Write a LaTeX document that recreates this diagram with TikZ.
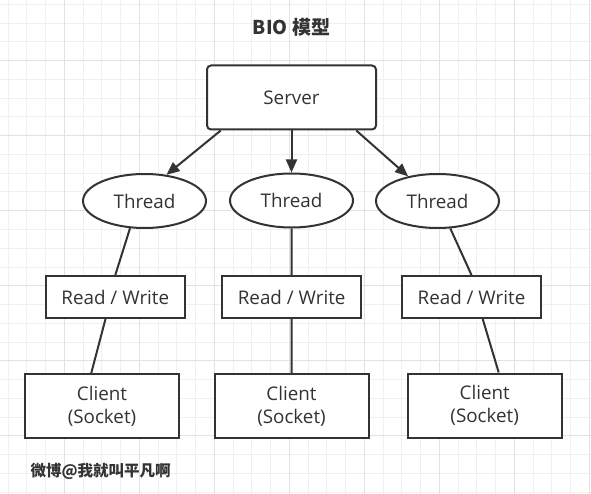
\documentclass[tikz,border=0pt]{standalone}
\usepackage{fontspec}
\setmainfont{Open Sans}
\newfontfamily\cjk{Noto Sans CJK SC}
\usetikzlibrary{shapes.geometric}
\usetikzlibrary{arrows.meta}
\definecolor{ink}{HTML}{333333}
\definecolor{gridminor}{HTML}{F0F0F0}
\definecolor{gridmajor}{HTML}{E2E2E2}

\begin{document}
\begin{tikzpicture}[x=1pt,y=-1pt,
    box/.style={draw=ink, line width=2pt, fill=white, text=ink, inner sep=0pt, align=center, font=\fontsize{18.8}{23}\selectfont},
    server/.style={box, rounded corners=4pt, minimum width=169pt, minimum height=64pt},
    thread/.style={box, ellipse, minimum width=123pt, minimum height=54pt},
    rwbox/.style={box, minimum width=139pt, minimum height=42pt},
    client/.style={box, minimum width=154pt, minimum height=64pt},
    link/.style={draw=ink, line width=2pt},
    spawn/.style={link, -{Triangle[length=13pt,width=11pt]}}]
    \useasboundingbox (0,0) rectangle (591,494);
    % grid background
    \fill[white] (0,0) rectangle (591,494);
    \foreach \i in {0,...,31} \draw[gridminor, line width=1pt] ({8.2+18.75*\i},0) -- ({8.2+18.75*\i},494);
    \foreach \i in {0,...,26} \draw[gridminor, line width=1pt] (0,{4.5+18.75*\i}) -- (591,{4.5+18.75*\i});
    \foreach \i in {0,...,7} \draw[gridmajor, line width=1pt] ({64.45+75*\i},0) -- ({64.45+75*\i},494);
    \foreach \i in {0,...,5} \draw[gridmajor, line width=1pt] (0,{60.75+75*\i}) -- (591,{60.75+75*\i});

    \node[text=ink, font=\cjk\bfseries\fontsize{19}{22}\selectfont] (title) at (291.5,27.5) {BIO 模型};

    \node[server] (server) at (291.5,97.5) {Server};

    \node[thread] (thr1) at (144.5,201) {Thread};
    \node[thread] (thr2) at (291.5,200.5) {Thread};
    \node[thread] (thr3) at (437.5,201) {Thread};

    \node[rwbox] (rw1) at (115.3,297) {Read / Write};
    \node[rwbox] (rw2) at (291.7,297) {Read / Write};
    \node[rwbox] (rw3) at (471.5,297) {Read / Write};

    \node[client] (cl1) at (102,406) {Client\\(Socket)};
    \node[client] (cl2) at (291.5,406) {Client\\(Socket)};
    \node[client] (cl3) at (484.7,405.5) {Client\\(Socket)};

    \draw[spawn] (server.-155) -- (thr1.50);
    \draw[spawn] (server.south) -- (thr2.north);
    \draw[spawn] (server.-27) -- (thr3.140);

    \draw[link] (thr1.-118) -- (rw1.north);
    \draw[link] (thr2.south) -- (rw2.north);
    \draw[link] (thr3.-65) -- (rw3.north);

    \draw[link] (rw1.-114) -- (cl1.108);
    \draw[link] (rw2.south) -- (cl2.north);
    \draw[link] (rw3.-63) -- (cl3.67);

    \node[anchor=west, text=ink, font=\cjk\bfseries\fontsize{15.5}{18}\selectfont] (mark) at (27,471) {微博@我就叫平凡啊};
\end{tikzpicture}
\end{document}
